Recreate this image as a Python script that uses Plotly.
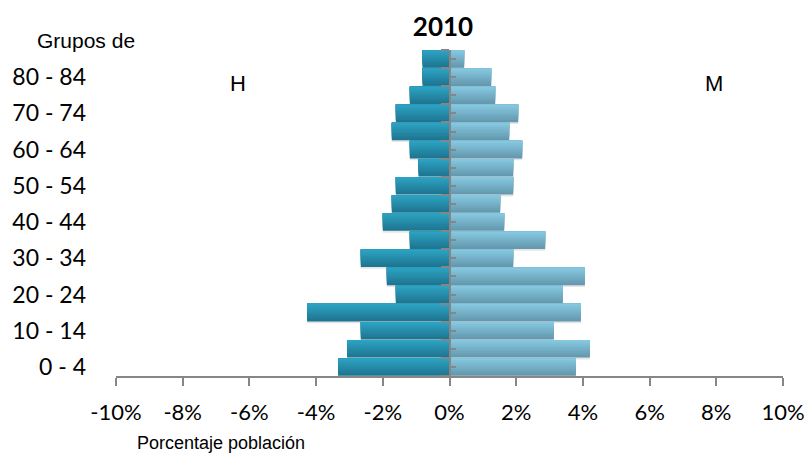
import plotly.graph_objects as go

# Age groups (bottom to top) and population share by sex, in percent
groups = ["0 - 4", "5 - 9", "10 - 14", "15 - 19", "20 - 24", "25 - 29", "30 - 34",
          "35 - 39", "40 - 44", "45 - 49", "50 - 54", "55 - 59", "60 - 64",
          "65 - 69", "70 - 74", "75 - 79", "80 - 84", "85 - 89"]
hombres = [-3.34, -3.07, -2.66, -4.27, -1.61, -1.88, -2.66, -1.19, -2.00,
           -1.73, -1.61, -0.93, -1.19, -1.73, -1.61, -1.19, -0.81, -0.81]
mujeres = [3.79, 4.21, 3.13, 3.94, 3.40, 4.06, 1.91, 2.87, 1.64,
           1.52, 1.91, 1.91, 2.18, 1.79, 2.06, 1.37, 1.25, 0.44]
x_ticks = [-10, -8, -6, -4, -2, 0, 2, 4, 6, 8, 10]

AXIS_GREY = "#868686"
BAR_W = 0.97
BANDS = 8
L, R, T, B = 113, 28, 50, 77


def mix(c1, c2, t):
    a = [int(c1[i:i + 2], 16) for i in (1, 3, 5)]
    b = [int(c2[i:i + 2], 16) for i in (1, 3, 5)]
    return "rgb({},{},{})".format(*[round(a[k] + (b[k] - a[k]) * t) for k in range(3)])


fig = go.Figure()
n = len(groups)
pos = list(range(n))

# soft drop shadow under each bar
for vals in (hombres, mujeres):
    fig.add_trace(go.Bar(y=groups, x=vals, orientation="h", width=BAR_W,
                         offset=-BAR_W / 2 - 0.1,
                         marker=dict(color="rgba(0,0,0,0.10)", line_width=0),
                         hoverinfo="skip", showlegend=False))

# each bar is built from overlapping layers, each one shorter from the bottom
# and lighter, giving a top-light / bottom-dark gradient without seams
for vals, dark, light, name in ((hombres, "#1e7691", "#2ca1c1", "H"),
                                (mujeres, "#6599af", "#84c7df", "M")):
    for i in range(BANDS):
        fig.add_trace(go.Bar(
            y=groups, x=vals, orientation="h", name=name,
            width=BAR_W - i * BAR_W / BANDS,
            offset=-BAR_W / 2 + i * BAR_W / BANDS,
            marker=dict(color=mix(dark, light, i / (BANDS - 1)), line_width=0),
            showlegend=False,
        ))

# invisible anchors so the label axis and the centre-mark axis get drawn
for ax in ("y2", "y3"):
    fig.add_trace(go.Scatter(x=[0] * n, y=pos, yaxis=ax, mode="markers",
                             marker=dict(opacity=0), hoverinfo="skip",
                             showlegend=False))

fig.update_layout(
    width=811, height=453,
    margin=dict(l=L, r=R, t=T, b=B),
    paper_bgcolor="white", plot_bgcolor="white",
    barmode="overlay",
    showlegend=False,
    font=dict(family="Lato, Open Sans, sans-serif", color="black"),
    title=dict(text="<b>2010</b>", x=443 / 811, y=1 - 27 / 453,
               xanchor="center", yanchor="middle",
               font=dict(family="Lato", size=26, color="black")),
    xaxis=dict(
        range=[-10, 10], tickvals=x_ticks, ticktext=[f"{v}%" for v in x_ticks],
        showgrid=False, zeroline=False, showline=True, linecolor=AXIS_GREY,
        linewidth=2, ticks="outside", ticklen=8, tickwidth=2, tickcolor=AXIS_GREY,
        tickfont=dict(family="Lato", size=22, color="black"),
        ticklabelstandoff=8, automargin=False,
    ),
    # central axis line with ticks at group boundaries
    yaxis=dict(
        type="category", categoryorder="array", categoryarray=groups,
        range=[-0.5, n - 0.5], anchor="free", position=0.5,
        showgrid=False, zeroline=False, showline=True, linecolor=AXIS_GREY,
        linewidth=2, ticks="outside", tickson="boundaries", ticklen=8,
        tickwidth=2, tickcolor=AXIS_GREY, showticklabels=False,
    ),
    # group labels along the left edge
    yaxis2=dict(
        overlaying="y", side="left", anchor="x", range=[-0.5, n - 0.5],
        tickmode="array", tickvals=pos[0:n - 1:2],
        ticktext=groups[0:n - 1:2], showgrid=False, zeroline=False,
        showline=False, ticks="", ticklabelstandoff=29,
        tickfont=dict(family="Lato", size=23, color="black"),
    ),
    # short marks at group centres, right of the central axis
    yaxis3=dict(
        overlaying="y", side="right", anchor="free", position=0.5,
        range=[-0.5, n - 0.5], tickmode="array", tickvals=pos,
        showgrid=False, zeroline=False, showline=False, ticks="outside",
        ticklen=5, tickwidth=2, tickcolor=AXIS_GREY, showticklabels=False,
    ),
)

PW = 811 - L - R
PH = 453 - T - B


def px(x):
    return (x - L) / PW


def py(y):
    return (453 - B - y) / PH


fig.add_annotation(text="H", xref="paper", yref="paper", x=px(236), y=py(84),
                   xanchor="center", yanchor="middle", showarrow=False,
                   font=dict(family="Liberation Sans", size=22, color="black"))
fig.add_annotation(text="M", xref="paper", yref="paper", x=px(714), y=py(84),
                   xanchor="center", yanchor="middle", showarrow=False,
                   font=dict(family="Liberation Sans", size=22, color="black"))
fig.add_annotation(text="Grupos de", xref="paper", yref="paper", x=px(32),
                   y=py(41), xanchor="left", yanchor="middle", showarrow=False,
                   font=dict(family="Liberation Sans", size=21, color="black"))
fig.add_annotation(text="Porcentaje población", xref="paper", yref="paper",
                   x=px(132), y=py(443), xanchor="left", yanchor="middle",
                   showarrow=False,
                   font=dict(family="Liberation Sans", size=18, color="black"))

fig.write_html("out.html")
